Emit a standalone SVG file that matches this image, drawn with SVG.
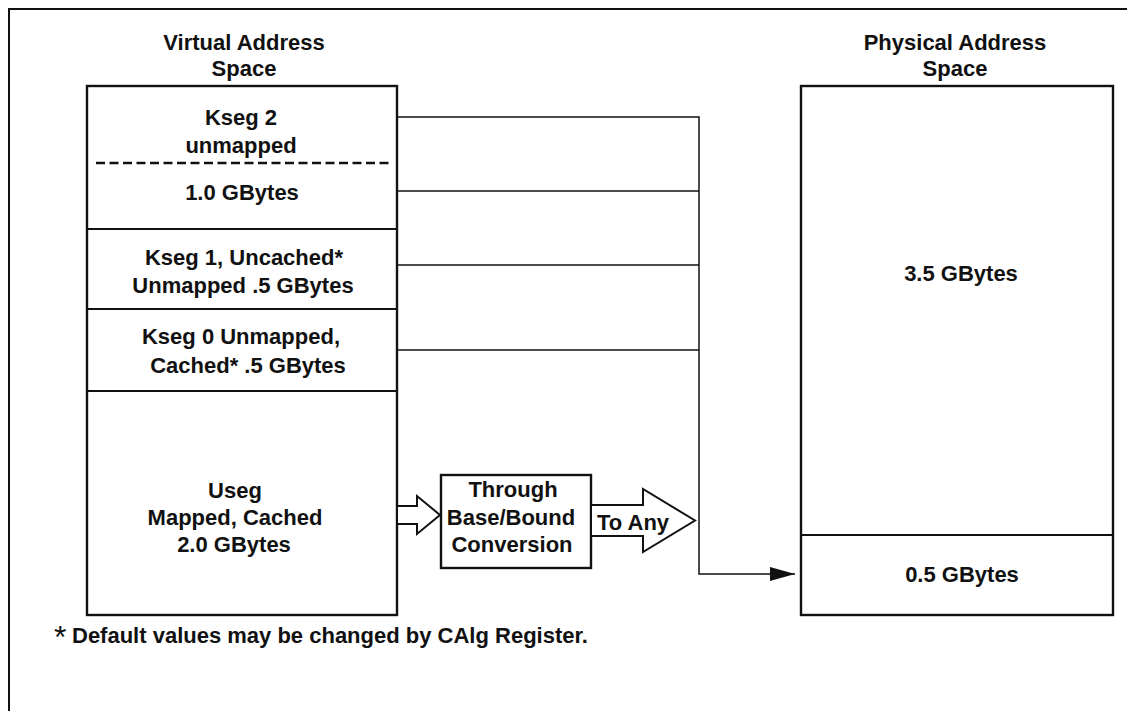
<svg xmlns="http://www.w3.org/2000/svg" width="1127" height="711" viewBox="0 0 1127 711">
  <style>
    text { font-family: "Liberation Sans", Arial, Helvetica, sans-serif; font-weight: bold; font-size: 22px; fill: #111; }
    .c { text-anchor: middle; }
    .box { fill: #fff; stroke: #111; stroke-width: 2.4; }
    .div { stroke: #111; stroke-width: 2; fill: none; }
    .dash { stroke: #111; stroke-width: 2.4; stroke-dasharray: 9 4.5; fill: none; }
    .wire { stroke: #111; stroke-width: 1.5; fill: none; }
    .hollow { fill: #fff; stroke: #111; stroke-width: 2; stroke-linejoin: miter; }
    .frame { stroke: #111; stroke-width: 2; fill: none; }
    .ast { font-weight: normal; font-size: 32px; }
  </style>
  <defs>
    <marker id="solidHead" viewBox="0 0 25 14" refX="25" refY="7" markerWidth="25" markerHeight="14" markerUnits="userSpaceOnUse" orient="auto">
      <path d="M0,0 L25,7 L0,14 Z" fill="#111"/>
    </marker>
  </defs>

  <rect width="1127" height="711" fill="#fff"/>

  <!-- page frame: only top and left rules run inside the sheet -->
  <path class="frame" d="M9,711 V9 H1127"/>

  <!-- virtual address space -->
  <g id="virtual-space">
    <text class="c" x="244" y="50">Virtual Address</text>
    <text class="c" x="244" y="76">Space</text>
    <rect class="box" x="87" y="86" width="310" height="529"/>
    <line class="dash" x1="96" y1="163" x2="392" y2="163"/>
    <line class="div" x1="87" y1="229" x2="397" y2="229"/>
    <line class="div" x1="87" y1="309" x2="397" y2="309"/>
    <line class="div" x1="87" y1="391" x2="397" y2="391"/>
  </g>

  <g id="kseg2">
    <text class="c" x="241" y="125">Kseg 2</text>
    <text class="c" x="241" y="153">unmapped</text>
    <text class="c" x="242" y="200">1.0 GBytes</text>
  </g>

  <g id="kseg1">
    <text class="c" x="244" y="265">Kseg 1, Uncached*</text>
    <text class="c" x="243" y="293">Unmapped .5 GBytes</text>
  </g>

  <g id="kseg0">
    <text class="c" x="241" y="344">Kseg 0 Unmapped,</text>
    <text class="c" x="248" y="373">Cached* .5 GBytes</text>
  </g>

  <g id="useg">
    <text class="c" x="235" y="498">Useg</text>
    <text class="c" x="235" y="525">Mapped, Cached</text>
    <text class="c" x="234" y="552">2.0 GBytes</text>
  </g>

  <!-- base/bound conversion box -->
  <g id="base-bound">
    <rect class="box" x="441" y="475" width="150" height="93"/>
    <text class="c" x="513" y="497">Through</text>
    <text class="c" x="511" y="525">Base/Bound</text>
    <text class="c" x="512" y="552">Conversion</text>
  </g>

  <!-- physical address space -->
  <g id="physical-space">
    <text class="c" x="955" y="50">Physical Address</text>
    <text class="c" x="955" y="76">Space</text>
    <rect class="box" x="801" y="86" width="312" height="529"/>
    <line class="div" x1="801" y1="535" x2="1113" y2="535"/>
    <text class="c" x="961" y="281">3.5 GBytes</text>
    <text class="c" x="962" y="582">0.5 GBytes</text>
  </g>

  <!-- connectors -->
  <g id="connectors">
    <path class="wire" d="M397,117 H699 V574 H795" marker-end="url(#solidHead)"/>
    <line class="wire" x1="397" y1="191" x2="699" y2="191"/>
    <line class="wire" x1="397" y1="265" x2="699" y2="265"/>
    <line class="wire" x1="397" y1="350" x2="699" y2="350"/>
    <polygon class="hollow" points="397,506 417,506 417,496 440,515 417,534 417,524 397,524"/>
    <polygon class="hollow" points="591,505 643,505 643,489 695,520.5 643,552 643,536 591,536"/>
    <text x="597" y="530">To Any</text>
  </g>

  <!-- footnote -->
  <g id="footnote">
    <text x="54" y="643"><tspan class="ast" dy="5">*</tspan><tspan x="72" dy="-5">Default values may be changed by CAlg Register.</tspan></text>
  </g>
</svg>
